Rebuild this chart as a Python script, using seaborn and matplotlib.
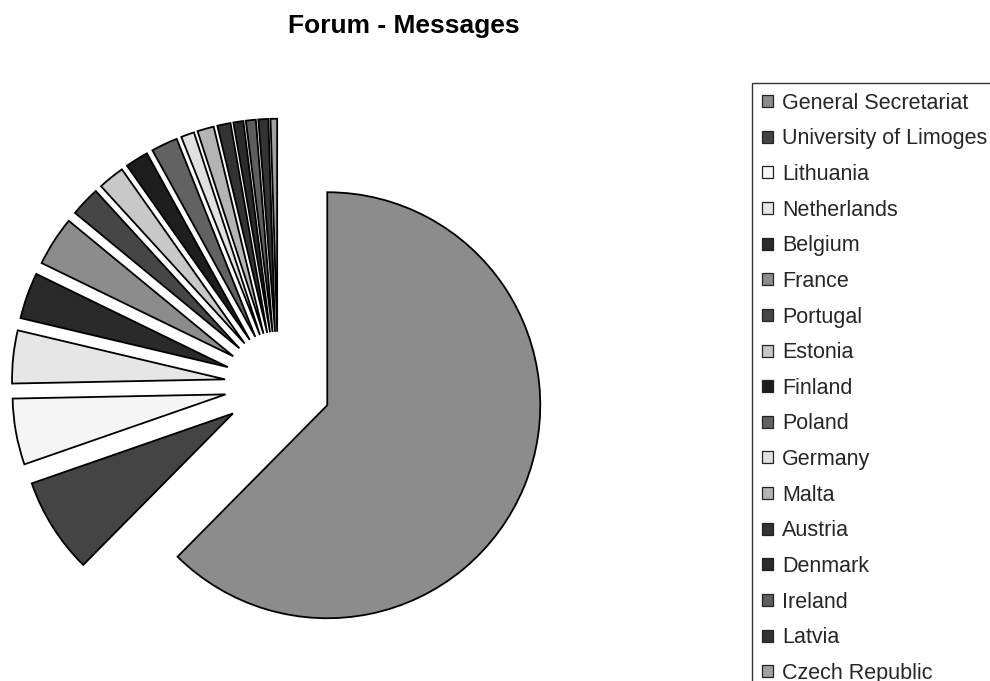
import matplotlib
matplotlib.use("Agg")
import matplotlib.pyplot as plt
import seaborn as sns
from matplotlib.patches import Patch

sns.set_theme(style="white")
plt.rcParams['font.family'] = ['Liberation Sans', 'DejaVu Sans']

categories = ["General Secretariat", "University of Limoges", "Lithuania", "Netherlands",
              "Belgium", "France", "Portugal", "Estonia", "Finland", "Poland", "Germany",
              "Malta", "Austria", "Denmark", "Ireland", "Latvia", "Czech Republic"]
messages = [249, 29, 20, 16, 14, 15, 9, 8, 7, 8, 4, 5, 4, 3, 3, 3, 2]
colors = ["#8c8c8c", "#444444", "#f5f5f5", "#e6e6e6", "#2a2a2a", "#8c8c8c", "#464646",
          "#c8c8c8", "#1e1e1e", "#626262", "#e0e0e0", "#b4b4b4", "#333333", "#2a2a2a",
          "#5e5e5e", "#333333", "#a0a0a0"]
title = "Forum - Messages"

W, H = 990, 681
fig = plt.figure(figsize=(W / 100, H / 100), dpi=100)
fig.patch.set_facecolor("white")

# pie axes: center at (278, 385) px, radius 213 px
r_px, cx, cy = 213, 278, 385
lim = 1.3
ax = fig.add_axes([(cx - lim * r_px) / W, (H - (cy + lim * r_px)) / H,
                   2 * lim * r_px / W, 2 * lim * r_px / H])
wedges, _ = ax.pie(messages, colors=colors, startangle=90, counterclock=False,
                   explode=[0.25] * len(messages),
                   wedgeprops=dict(edgecolor="black", linewidth=1.3))
ax.set_xlim(-lim, lim)
ax.set_ylim(-lim, lim)
ax.set_aspect("equal")
ax.axis("off")

fig.text(404 / W, 1 - 26 / H, title, ha="center", va="center",
         fontsize=19, fontweight="bold", color="black")

handles = [Patch(facecolor=c, edgecolor="#222222", linewidth=0.9) for c in colors]
leg = fig.legend(handles, categories, loc="upper left",
                 bbox_to_anchor=(752 / W, 1 - 83 / H), bbox_transform=fig.transFigure,
                 borderaxespad=0, frameon=True, fancybox=False, fontsize=15.5,
                 handlelength=0.52, handleheight=0.48, handletextpad=0.42,
                 labelspacing=0.68, borderpad=0.45)
leg.get_frame().set_edgecolor("black")
leg.get_frame().set_linewidth(1.0)

fig.savefig("out.png", dpi=100, facecolor="white")
